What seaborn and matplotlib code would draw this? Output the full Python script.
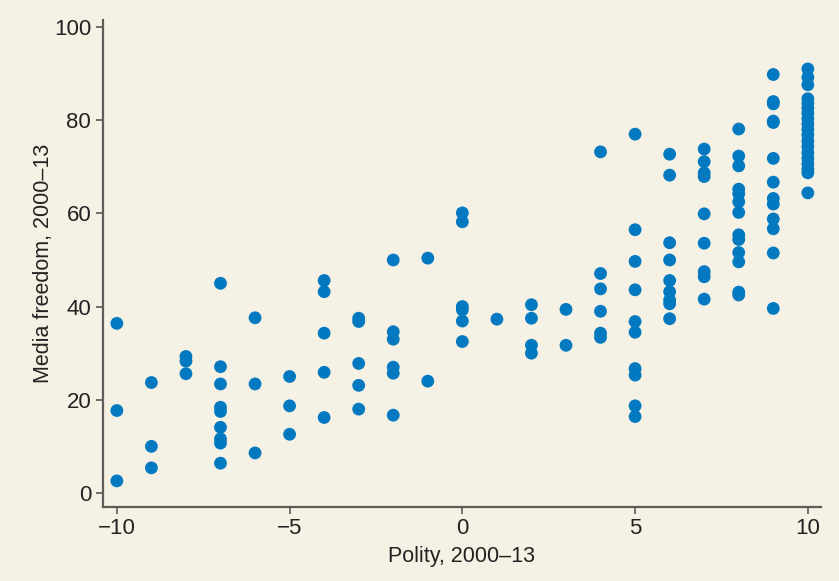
import numpy as np
import pandas as pd
import seaborn as sns
import matplotlib.pyplot as plt

# media freedom scores, one list per polity score
polity_levels = [-10, -9, -8, -7, -6, -5, -4, -3, -2, -1, 0, 1, 2, 3, 4, 5, 6, 7, 8, 9, 10]
media_by_polity = {
    -10: [36.4, 17.7, 2.6],
    -9: [23.7, 10.0, 5.4],
    -8: [29.3, 28.3, 25.6],
    -7: [45.0, 27.1, 23.4, 18.4, 17.5, 14.1, 11.6, 10.7, 6.4],
    -6: [37.6, 23.4, 8.6],
    -5: [25.0, 18.7, 12.6],
    -4: [45.6, 43.2, 34.3, 25.9, 16.2],
    -3: [37.5, 36.8, 27.8, 23.1, 18.0],
    -2: [50.0, 34.6, 33.0, 27.0, 25.7, 16.7],
    -1: [50.4, 24.0],
    0: [60.1, 58.2, 40.0, 39.3, 36.9, 32.5],
    1: [37.3],
    2: [40.4, 37.5, 31.7, 30.0],
    3: [39.4, 31.7],
    4: [73.2, 47.1, 43.8, 39.0, 34.3, 33.4],
    5: [77.0, 56.5, 49.7, 43.6, 36.8, 34.5, 26.7, 25.3, 18.7, 16.4],
    6: [72.7, 68.2, 53.7, 50.0, 45.6, 43.2, 41.4, 40.6, 37.4],
    7: [73.8, 71.1, 68.7, 67.9, 59.9, 53.6, 47.5, 46.4, 41.6],
    8: [78.1, 72.3, 70.2, 65.2, 64.2, 62.5, 60.2, 55.4, 54.4, 51.6, 49.6, 43.1, 42.5],
    9: [89.8, 84.0, 83.5, 79.8, 79.5, 71.8, 66.7, 63.2, 62.0, 58.8, 56.7, 51.5, 39.6],
    10: [91.0, 89.2, 87.6, 84.6, 83.6, 82.6, 81.5, 80.3, 79.2, 78.0, 76.8, 75.5,
         74.3, 73.0, 71.8, 70.6, 69.5, 68.7, 64.4],
}

rows = [(p, m) for p in polity_levels for m in media_by_polity[p]]
df = pd.DataFrame(rows, columns=["polity", "media"])

bg = "#f5f1e4"
dot = "#0079c1"
axis_grey = "#5e5b58"

sns.set_style("ticks")
plt.rcParams["font.family"] = ["Liberation Sans", "DejaVu Sans"]

fig = plt.figure(figsize=(8.39, 5.81), dpi=100, facecolor=bg)
ax = fig.add_axes([0.1228, 0.1274, 0.8557, 0.8382])
ax.set_facecolor(bg)

sns.scatterplot(data=df, x="polity", y="media", ax=ax, color=dot,
                s=85, edgecolor="none", linewidth=0)

ax.set_xlim(-10.4, 10.38)
ax.set_ylim(-3.0, 101.5)
ax.set_xticks([-10, -5, 0, 5, 10])
ax.set_xticklabels(["\u221210", "\u22125", "0", "5", "10"])
ax.set_yticks([0, 20, 40, 60, 80, 100])

for side in ["top", "right"]:
    ax.spines[side].set_visible(False)
for side in ["left", "bottom"]:
    ax.spines[side].set_color(axis_grey)
    ax.spines[side].set_linewidth(1.6)

ax.tick_params(axis="both", colors=axis_grey, length=5, width=1.2,
               labelsize=16, labelcolor="#222222")
ax.tick_params(axis="x", pad=3)

ax.set_xlabel("Polity, 2000\u201313", fontsize=15.5, color="#222222", labelpad=5)
ax.set_ylabel("Media freedom, 2000\u201313", fontsize=15.5, color="#222222", labelpad=0)

fig.savefig("out.png", dpi=100, facecolor=bg)
